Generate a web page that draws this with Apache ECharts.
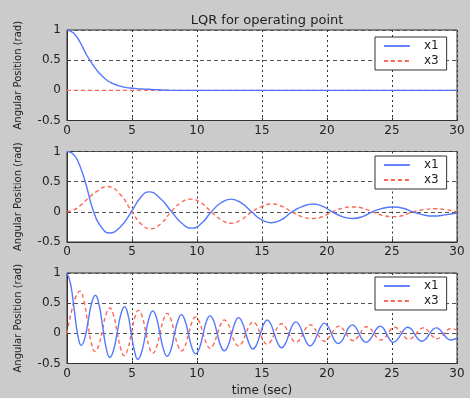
<!DOCTYPE html>
<html>
<head>
<meta charset="utf-8">
<script src="https://cdn.jsdelivr.net/npm/echarts@6/dist/echarts.min.js"></script>
<style>
  html, body { margin: 0; padding: 0; background: #cbcbcb; }
  #chart { width: 470px; height: 398px; }
</style>
</head>
<body>
<div id="chart"></div>
<script>
// tick values
const xTicks = [0, 5, 10, 15, 20, 25, 30];
const yTicks = [-0.5, 0, 0.5, 1];

// top plot
const tTop = [0, 0.5, 1, 1.5, 2, 2.5, 3, 3.5, 4, 4.5, 5, 5.5, 6, 6.5, 7, 8, 30];
const x1Top = [1, 0.95, 0.8, 0.59, 0.42, 0.28, 0.18, 0.115, 0.075, 0.05, 0.035, 0.025, 0.02, 0.015, 0.01, 0, 0];
const tTopX3 = [0, 30];
const x3Top = [0, 0];

// middle plot
const tMidX1 = [0, 0.4, 0.8, 1.4, 2.05, 2.7, 3.25, 4.1, 4.95, 5.63, 6.3, 7.18, 8.05, 8.83, 9.6, 10.35, 11.1, 11.85, 12.6,
  13.4, 14.2, 14.95, 15.7, 16.5, 17.3, 18.13, 18.95, 19.68, 20.4, 21.18, 21.95, 22.73, 23.5, 24.3, 25.1, 25.85, 26.6,
  27.4, 28.2, 29.1, 30];
const x1Mid = [1, 0.97, 0.86, 0.5, 0, -0.27, -0.35, -0.25, 0, 0.23, 0.33, 0.22, 0, -0.19, -0.27, -0.19, 0, 0.15, 0.21,
  0.15, 0, -0.13, -0.18, -0.13, 0, 0.09, 0.13, 0.09, 0, -0.08, -0.11, -0.08, 0, 0.06, 0.08, 0.06, 0,
  -0.05, -0.07, -0.05, -0.02];
const tMidX3 = [0, 0.5, 1, 1.6, 2.3, 3.1, 4.05, 5, 5.7, 6.4, 7.2, 8, 8.75, 9.5, 10.3, 11.1, 11.85, 12.6, 13.4, 14.2,
  15, 15.8, 16.55, 17.3, 18.1, 18.9, 19.65, 20.4, 21.2, 22, 22.75, 23.5, 24.3, 25.1, 25.85, 26.6, 27.45, 28.3, 29.15, 30];
const x3Mid = [0, 0.03, 0.1, 0.22, 0.34, 0.42, 0.3, 0, -0.2, -0.28, -0.2, 0, 0.15, 0.21, 0.15, 0, -0.13, -0.19, -0.13, 0,
  0.09, 0.13, 0.09, 0, -0.08, -0.11, -0.08, 0, 0.06, 0.08, 0.06, 0, -0.06, -0.08, -0.06, 0, 0.035, 0.05, 0.035, 0];

// bottom plot
const tBotX1 = [0,
  0.275, 0.55, 0.825, 1.1, 1.37, 1.64, 1.91, 2.18, 2.46, 2.74, 3.02, 3.3, 3.58, 3.87, 4.15, 4.43,
  4.69, 4.94, 5.2, 5.45, 5.74, 6.03, 6.31, 6.6, 6.88, 7.15, 7.43, 7.7, 7.98, 8.25, 8.53, 8.8,
  9.08, 9.35, 9.63, 9.9, 10.18, 10.45, 10.73, 11, 11.28, 11.55, 11.83, 12.1, 12.38, 12.65, 12.93, 13.2,
  13.48, 13.75, 14.03, 14.3, 14.58, 14.85, 15.13, 15.4, 15.68, 15.95, 16.23, 16.5, 16.78, 17.05, 17.33, 17.6,
  17.88, 18.15, 18.43, 18.7, 18.98, 19.25, 19.53, 19.8, 20.06, 20.33, 20.59, 20.85, 21.13, 21.4, 21.68, 21.95,
  22.21, 22.48, 22.74, 23, 23.28, 23.55, 23.83, 24.1, 24.35, 24.6, 24.85, 25.1, 25.38, 25.65, 25.93, 26.2,
  26.48, 26.75, 27.03, 27.3, 27.58, 27.85, 28.13, 28.4, 28.68, 28.95, 29.23, 29.5, 30];
const x1Bot = [1,
  0.82, 0.4, -0.02, -0.2, -0.08, 0.22, 0.51, 0.63, 0.48, 0.12, -0.25, -0.4, -0.28, 0.02, 0.32, 0.44,
  0.31, 0, -0.3, -0.43, -0.31, -0.03, 0.25, 0.37, 0.26, -0.01, -0.27, -0.38, -0.28, -0.03, 0.21, 0.31,
  0.21, -0.02, -0.25, -0.34, -0.25, -0.03, 0.2, 0.29, 0.21, 0, -0.21, -0.29, -0.21, -0.02, 0.18, 0.26,
  0.18, 0, -0.18, -0.26, -0.19, -0.02, 0.15, 0.22, 0.15, -0.01, -0.17, -0.24, -0.18, -0.03, 0.13, 0.19,
  0.13, -0.01, -0.15, -0.21, -0.15, -0.02, 0.11, 0.17, 0.12, 0, -0.12, -0.17, -0.13, -0.02, 0.1, 0.14,
  0.1, -0.01, -0.11, -0.15, -0.11, -0.02, 0.08, 0.12, 0.08, -0.02, -0.11, -0.15, -0.11, -0.03, 0.06, 0.1,
  0.07, -0.02, -0.1, -0.13, -0.1, -0.02, 0.06, 0.09, 0.06, -0.01, -0.08, -0.11, -0.08];
const tBotX3 = [0, 0.33, 0.67, 1,
  1.29, 1.58, 1.86, 2.15, 2.44, 2.73, 3.01, 3.3, 3.58, 3.85, 4.13, 4.4, 4.68, 4.95, 5.23, 5.5,
  5.78, 6.05, 6.33, 6.6, 6.88, 7.15, 7.43, 7.7, 7.98, 8.25, 8.53, 8.8, 9.08, 9.35, 9.63, 9.9,
  10.18, 10.45, 10.73, 11, 11.28, 11.55, 11.83, 12.1, 12.38, 12.65, 12.93, 13.2, 13.48, 13.75, 14.03, 14.3,
  14.58, 14.85, 15.13, 15.4, 15.68, 15.95, 16.23, 16.5, 16.78, 17.05, 17.33, 17.6, 17.88, 18.15, 18.43, 18.7,
  18.98, 19.25, 19.53, 19.8, 20.08, 20.35, 20.63, 20.9, 21.18, 21.45, 21.73, 22, 22.26, 22.53, 22.79, 23.05,
  23.33, 23.6, 23.88, 24.15, 24.41, 24.68, 24.94, 25.2, 25.48, 25.75, 26.03, 26.3, 26.58, 26.85, 27.13, 27.4,
  27.66, 27.93, 28.19, 28.45, 28.73, 29, 29.28, 29.55, 30];
const x3Bot = [0, 0.35, 0.6, 0.7,
  0.55, 0.2, -0.15, -0.3, -0.2, 0.06, 0.32, 0.42, 0.3, 0.03, -0.25, -0.37, -0.26, 0, 0.27, 0.38,
  0.28, 0.03, -0.23, -0.33, -0.23, 0, 0.23, 0.33, 0.24, 0.02, -0.2, -0.29, -0.21, -0.01, 0.19, 0.27,
  0.19, 0.01, -0.17, -0.25, -0.18, -0.02, 0.15, 0.22, 0.16, 0, -0.15, -0.21, -0.15, -0.01, 0.13, 0.19,
  0.14, 0, -0.13, -0.18, -0.13, -0.01, 0.11, 0.16, 0.11, 0, -0.1, -0.15, -0.11, -0.01, 0.1, 0.14,
  0.1, 0, -0.09, -0.13, -0.09, -0.01, 0.08, 0.12, 0.085, 0, -0.085, -0.12, -0.09, -0.01, 0.08, 0.11,
  0.08, 0, -0.08, -0.11, -0.08, -0.01, 0.07, 0.1, 0.07, 0, -0.07, -0.1, -0.07, -0.01, 0.06, 0.09,
  0.064, 0, -0.064, -0.09, -0.065, -0.01, 0.055, 0.08, 0.05];

const zip = (t, v) => t.map((x, i) => [x, v[i]]);

const FONT = "DejaVu Sans";
const tops = [30, 151.5, 273];
const legendTops = [37, 156, 277];

const grids = tops.map((top) => ({
  left: 67, right: 13, top: top, height: 90.5,
  show: true, backgroundColor: "#fff", borderColor: "#333", borderWidth: 1,
}));

const xAxes = tops.map((_, i) => ({
  type: "value", gridIndex: i, min: xTicks[0], max: xTicks[xTicks.length - 1], interval: 5,
  name: i === 2 ? "time (sec)" : "", nameLocation: "middle", nameGap: 21,
  nameTextStyle: { fontFamily: FONT, fontSize: 12, color: "#222" },
  axisLine: { onZero: false, lineStyle: { color: "#333" } },
  axisTick: { inside: true, length: 3, lineStyle: { color: "#333" } },
  axisLabel: { fontFamily: FONT, fontSize: 12, color: "#222", margin: 4 },
  splitLine: { show: true, lineStyle: { color: "#333", type: [2, 3], width: 1 } },
}));

const yAxes = tops.map((_, i) => ({
  type: "value", gridIndex: i, min: yTicks[0], max: yTicks[yTicks.length - 1], interval: 0.5,
  name: "Angular Position (rad)", nameLocation: "middle", nameGap: 44, nameRotate: 90,
  nameTextStyle: { fontFamily: FONT, fontSize: 10, color: "#222" },
  axisLine: { show: true, onZero: false, lineStyle: { color: "#333" } },
  axisTick: { show: true, inside: true, length: 3, lineStyle: { color: "#333" } },
  axisLabel: { fontFamily: FONT, fontSize: 12, color: "#222", margin: 6 },
  splitLine: { show: true, lineStyle: { color: "#555", type: [4, 3], width: 1 } },
}));

const blue = "#5577ff";
const red = "#ff6655";

function lineSeries(name, i, data) {
  const isX3 = name === "x3";
  return {
    name: name, type: "line", xAxisIndex: i, yAxisIndex: i,
    data: data, symbol: "none", smooth: 0.5, animation: false,
    z: isX3 ? 2 : 3,
    lineStyle: { color: isX3 ? red : blue, width: 1.4, type: isX3 ? [4, 3] : "solid" },
    itemStyle: { color: isX3 ? red : blue },
  };
}

const series = [
  lineSeries("x3", 0, zip(tTopX3, x3Top)),
  lineSeries("x1", 0, zip(tTop, x1Top)),
  lineSeries("x3", 1, zip(tMidX3, x3Mid)),
  lineSeries("x1", 1, zip(tMidX1, x1Mid)),
  lineSeries("x3", 2, zip(tBotX3, x3Bot)),
  lineSeries("x1", 2, zip(tBotX1, x1Bot)),
];

const legends = legendTops.map((top) => ({
  data: ["x1", "x3"], orient: "vertical", left: 375, top: top,
  backgroundColor: "#fff", borderColor: "#333", borderWidth: 1,
  padding: [3, 8, 3, 8], itemGap: 3, itemWidth: 26, itemHeight: 10,
  selectedMode: false,
  itemStyle: { opacity: 0 },
  lineStyle: { width: 1.8 },
  textStyle: { fontFamily: FONT, fontSize: 12, color: "#222", padding: [0, 2, 0, 9] },
}));

const chart = echarts.init(document.getElementById("chart"));
chart.setOption({
  backgroundColor: "#cbcbcb",
  animation: false,
  title: {
    text: "LQR for operating point", left: 262, top: 9, textAlign: "center",
    textStyle: { fontFamily: FONT, fontSize: 13, fontWeight: "normal", color: "#222" },
  },
  legend: legends,
  grid: grids,
  xAxis: xAxes,
  yAxis: yAxes,
  series: series,
});
</script>
</body>
</html>
